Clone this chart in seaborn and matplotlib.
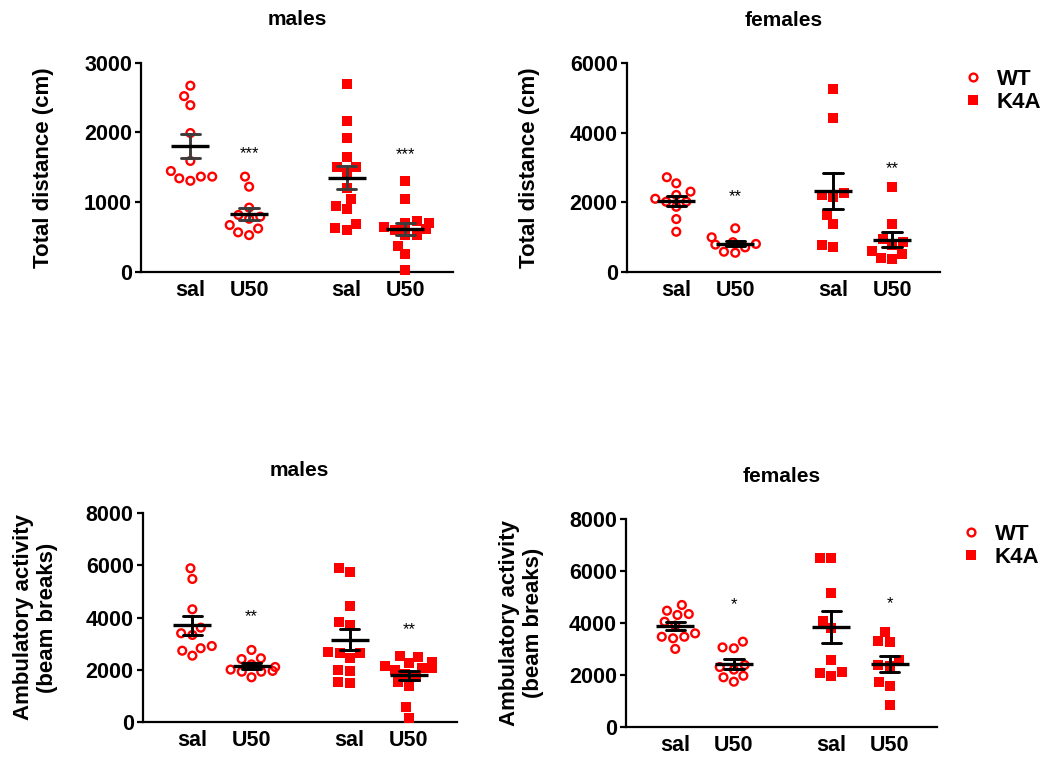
import matplotlib
matplotlib.use("Agg")
import matplotlib.pyplot as plt
from matplotlib.lines import Line2D
import seaborn as sns
import pandas as pd

# groups, left to right in every panel
groups = ["WT sal", "WT U50", "K4A sal", "K4A U50"]
genotypes = ["WT", "WT", "K4A", "K4A"]
tick_labels = ["sal", "U50", "sal", "U50"]

# males - total distance (cm)
m_dist_wt_sal = [2520, 2670, 2390, 1990, 1590, 1445, 1365, 1305, 1365, 1340]
m_dist_wt_u50 = [1365, 1220, 920, 790, 815, 760, 670, 620, 565, 525]
m_dist_k4a_sal = [2695, 2170, 1925, 1650, 1505, 1505, 1420, 1195, 1040, 945, 895, 680, 600, 630]
m_dist_k4a_u50 = [1300, 1050, 725, 695, 695, 640, 620, 600, 525, 525, 370, 250, 25]
m_dist_stars = ["***", "***"]
m_dist_star_y = [1700, 1680]

# females - total distance (cm)
f_dist_wt_sal = [2720, 2545, 2305, 2210, 2015, 2015, 2100, 1870, 1515, 1150]
f_dist_wt_u50 = [1250, 990, 850, 800, 780, 700, 575, 545]
f_dist_k4a_sal = [5250, 4435, 2255, 2160, 2210, 1630, 1375, 720, 770]
f_dist_k4a_u50 = [2430, 1375, 865, 935, 510, 365, 405, 770, 600]
f_dist_stars = ["**", "**"]
f_dist_star_y = [2160, 2980]

# males - ambulatory activity (beam breaks)
m_amb_wt_sal = [5890, 5480, 4315, 3610, 3395, 3330, 2905, 2820, 2725, 2535]
m_amb_wt_u50 = [2755, 2435, 2405, 2200, 2100, 2000, 1950, 1920, 1920, 1705]
m_amb_k4a_sal = [5890, 5735, 4440, 3840, 3710, 2690, 2625, 2625, 2435, 1985, 1945, 1535, 1475]
m_amb_k4a_u50 = [2510, 2480, 2300, 2250, 2150, 2050, 2050, 1980, 1850, 1700, 1520, 1380, 550, 150]
m_amb_stars = ["**", "**"]
m_amb_star_y = [4030, 3520]

# females - ambulatory activity (beam breaks)
f_amb_wt_sal = [4695, 4475, 4345, 4310, 4050, 3900, 3600, 3470, 3470, 3410, 3000]
f_amb_wt_u50 = [3280, 3060, 3025, 2380, 2300, 2200, 1965, 1905, 1735]
f_amb_k4a_sal = [6495, 6495, 5145, 4090, 3800, 2570, 2120, 1965, 2060]
f_amb_k4a_u50 = [3665, 3305, 3280, 2575, 2380, 2340, 1735, 1570, 835]
f_amb_stars = ["*", "*"]
f_amb_star_y = [4690, 4730]

# layout
group_x = {"WT sal": 0.0, "WT U50": 1.0, "K4A sal": 2.66, "K4A U50": 3.66}
star_groups = ["WT U50", "K4A U50"]
SWARM_GAP = 7.8      # spacing used to lay out the swarm (pt)
WT_SIZE, K4A_SIZE = 5.6, 6.5
WT_LW = 1.7

sns.set_style("ticks")
plt.rcParams["font.family"] = ["Liberation Sans", "DejaVu Sans"]
plt.rcParams["font.weight"] = "bold"
plt.rcParams["axes.labelweight"] = "bold"
plt.rcParams["axes.titleweight"] = "bold"
for key in ["text.color", "axes.labelcolor", "xtick.color", "ytick.color", "axes.edgecolor"]:
    plt.rcParams[key] = "black"


def to_frame(series):
    rows = []
    for g, geno, vals in zip(groups, genotypes, series):
        rows += [{"x": group_x[g], "genotype": geno, "value": v} for v in vals]
    return pd.DataFrame(rows)


def draw_panel(ax, df, ymax, title, ylabel, stars, star_y, err_color):
    swarms = []
    for geno, marker in [("WT", "o"), ("K4A", "s")]:
        sub = df[df["genotype"] == geno]
        n0 = len(ax.collections)
        sns.swarmplot(data=sub, x="x", y="value", native_scale=True, orient="x",
                      marker=marker, color="red", size=SWARM_GAP, ax=ax)
        for coll in ax.collections[n0:]:
            coll.set_clip_on(False)
            if geno == "WT":
                coll.set_facecolor("none")
                coll.set_edgecolor("red")
                coll.set_linewidth(WT_LW)
                coll.set_sizes([(SWARM_GAP - WT_LW) ** 2])
                swarms.append((coll, WT_SIZE))
            else:
                coll.set_linewidth(0)
                swarms.append((coll, K4A_SIZE))

    sns.pointplot(data=df, x="x", y="value", native_scale=True, orient="x",
                  errorbar="se", color="black", linestyle="none", marker="_",
                  markersize=27, markeredgewidth=2.4, capsize=0.33,
                  err_kws={"linewidth": 2.1, "color": err_color, "zorder": 4},
                  zorder=5, ax=ax)

    for g, s, y in zip(star_groups, stars, star_y):
        ax.text(group_x[g], y, s, ha="center", va="center", fontsize=12,
                fontweight="normal")

    ax.set_xlim(-0.84, 4.47)
    ax.set_ylim(0, ymax)
    ax.set_yticks(range(0, ymax + 1, 1000 if ymax == 3000 else 2000))
    ax.set_xticks([group_x[g] for g in groups])
    ax.set_xticklabels(tick_labels)
    ax.set_xlabel("")
    ax.set_ylabel(ylabel, fontsize=16)
    ax.set_title(title, fontsize=15, pad=27)
    sns.despine(ax=ax)
    for side in ["left", "bottom"]:
        ax.spines[side].set_linewidth(1.6)
        ax.spines[side].set_color("black")
    ax.tick_params(axis="y", length=4.5, width=1.6, labelsize=15.5, pad=2)
    ax.tick_params(axis="x", length=0, labelsize=15.5, pad=6)
    return swarms


W, H = 1050, 762
fig = plt.figure(figsize=(W / 100, H / 100), dpi=100)


def px_axes(x0, y0, x1, y1):
    return fig.add_axes([x0 / W, 1 - y1 / H, (x1 - x0) / W, (y1 - y0) / H])


panels = [
    (px_axes(141, 62.7, 453, 271.7),
     [m_dist_wt_sal, m_dist_wt_u50, m_dist_k4a_sal, m_dist_k4a_u50],
     3000, "males", "Total distance (cm)", m_dist_stars, m_dist_star_y, "#3c3c3c", 54),
    (px_axes(626.7, 63.3, 940, 271.7),
     [f_dist_wt_sal, f_dist_wt_u50, f_dist_k4a_sal, f_dist_k4a_u50],
     6000, "females", "Total distance (cm)", f_dist_stars, f_dist_star_y, "black", 540),
    (px_axes(142.7, 513.3, 456.7, 721.7),
     [m_amb_wt_sal, m_amb_wt_u50, m_amb_k4a_sal, m_amb_k4a_u50],
     8000, "males", "Ambulatory activity\n(beam breaks)", m_amb_stars, m_amb_star_y, "black", 58),
    (px_axes(626, 519.3, 937.3, 726.7),
     [f_amb_wt_sal, f_amb_wt_u50, f_amb_k4a_sal, f_amb_k4a_u50],
     8000, "females", "Ambulatory activity\n(beam breaks)", f_amb_stars, f_amb_star_y, "black", 544),
]

all_swarms = []
for ax, series, ymax, title, ylabel, stars, star_y, err_color, label_x in panels:
    all_swarms += draw_panel(ax, to_frame(series), ymax, title, ylabel, stars, star_y, err_color)
    x0 = ax.get_position().x0 * W
    ax.yaxis.set_label_coords((label_x - x0) / (ax.get_position().width * W), 0.5)

# lay out the swarms with generous spacing, then freeze them and shrink the markers
fig.canvas.draw()
for coll, size in all_swarms:
    coll.__dict__.pop("draw", None)
    coll.set_sizes([size ** 2])

handles = [
    Line2D([], [], linestyle="none", marker="o", markersize=WT_SIZE,
           markerfacecolor="none", markeredgecolor="red", markeredgewidth=WT_LW),
    Line2D([], [], linestyle="none", marker="s", markersize=K4A_SIZE,
           markerfacecolor="red", markeredgewidth=0),
]
for lx, ly in [(966, 69), (964, 524)]:
    fig.legend(handles, ["WT", "K4A"], loc="upper left",
               bbox_to_anchor=(lx / W, 1 - ly / H), bbox_transform=fig.transFigure,
               frameon=False, fontsize=16, handlelength=0.6, handletextpad=0.78,
               labelspacing=0.1, borderpad=0, borderaxespad=0)

fig.savefig("out.png", dpi=100)
